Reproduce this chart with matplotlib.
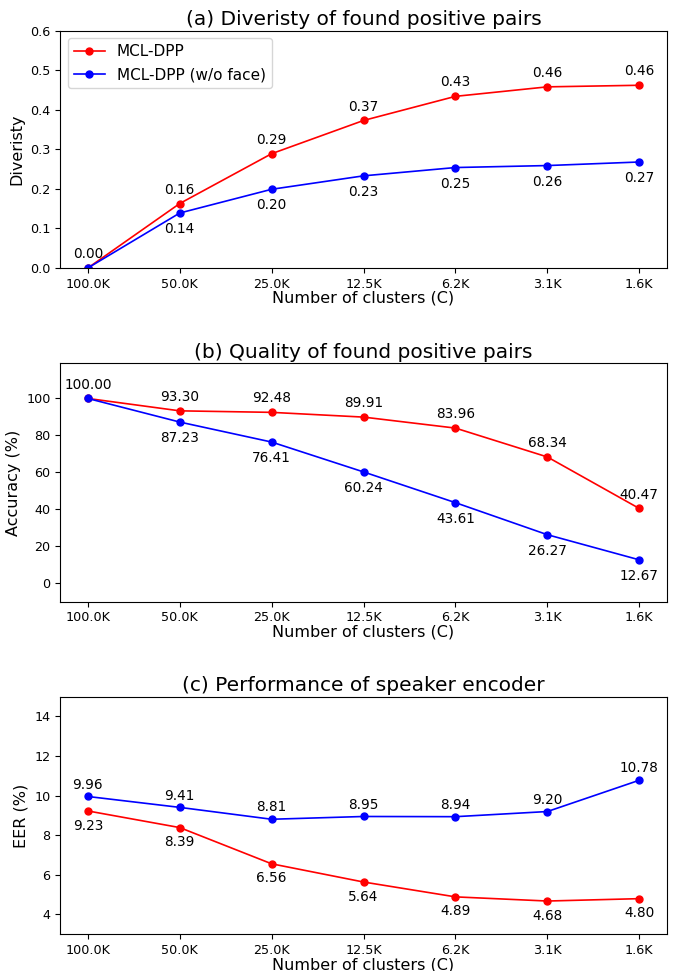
import matplotlib
matplotlib.use("Agg")
import matplotlib.pyplot as plt

clusters = ["100.0K", "50.0K", "25.0K", "12.5K", "6.2K", "3.1K", "1.6K"]

div_mcl = [0.00, 0.163, 0.289, 0.373, 0.434, 0.458, 0.462]
div_noface = [0.00, 0.139, 0.199, 0.233, 0.254, 0.259, 0.268]

acc_mcl = [100.00, 93.30, 92.48, 89.91, 83.96, 68.34, 40.47]
acc_noface = [100.00, 87.23, 76.41, 60.24, 43.61, 26.27, 12.67]

eer_mcl = [9.23, 8.39, 6.56, 5.64, 4.89, 4.68, 4.80]
eer_noface = [9.96, 9.41, 8.81, 8.95, 8.94, 9.20, 10.78]

titles = ["(a) Diveristy of found positive pairs",
          "(b) Quality of found positive pairs",
          "(c) Performance of speaker encoder"]
ylabels = ["Diveristy", "Accuracy (%)", "EER (%)"]

fig = plt.figure(figsize=(6.77, 9.71), dpi=100)
L, W = 0.089, 0.896
ax_a = fig.add_axes([L, 0.724, W, 0.2444])
ax_b = fig.add_axes([L, 0.3803, W, 0.2455])
ax_c = fig.add_axes([L, 0.0378, W, 0.2447])

x = list(range(len(clusters)))
LW, MS = 1.2, 5
TICK, ANN, LAB, TIT = 9.2, 9.8, 11.5, 14.5


def draw(ax, red, blue, red_up, skip_first_blue, fmt):
    ax.plot(x, red, color="red", marker="o", lw=LW, ms=MS, label="MCL-DPP")
    ax.plot(x, blue, color="blue", marker="o", lw=LW, ms=MS, label="MCL-DPP (w/o face)")
    for i, v in enumerate(red):
        ax.annotate(fmt % v, (x[i], v), xytext=(0, 10 if red_up else -10.5),
                    textcoords="offset points", ha="center", va="center", fontsize=ANN)
    for i, v in enumerate(blue):
        if skip_first_blue and i == 0:
            continue
        ax.annotate(fmt % v, (x[i], v), xytext=(0, -11.5 if red_up else 8.5),
                    textcoords="offset points", ha="center", va="center", fontsize=ANN)
    ax.set_xticks(x)
    ax.set_xticklabels(clusters)
    ax.tick_params(labelsize=TICK)
    ax.set_xlabel("Number of clusters (C)", fontsize=LAB, labelpad=0)


draw(ax_a, div_mcl, div_noface, True, True, "%.2f")
ax_a.set_ylim(0, 0.6)
ax_a.set_yticks([0.0, 0.1, 0.2, 0.3, 0.4, 0.5, 0.6])
ax_a.legend(loc="upper left", fontsize=11)

draw(ax_b, acc_mcl, acc_noface, True, True, "%.2f")
ax_b.set_ylim(-10, 119)
ax_b.set_yticks([0, 20, 40, 60, 80, 100])

draw(ax_c, eer_mcl, eer_noface, False, False, "%.2f")
ax_c.set_ylim(3, 15)
ax_c.set_yticks([4, 6, 8, 10, 12, 14])

for ax, t, yl in zip([ax_a, ax_b, ax_c], titles, ylabels):
    ax.set_title(t, fontsize=TIT, pad=4)
    ax.set_ylabel(yl, fontsize=LAB)

fig.savefig("out.png", dpi=100)
